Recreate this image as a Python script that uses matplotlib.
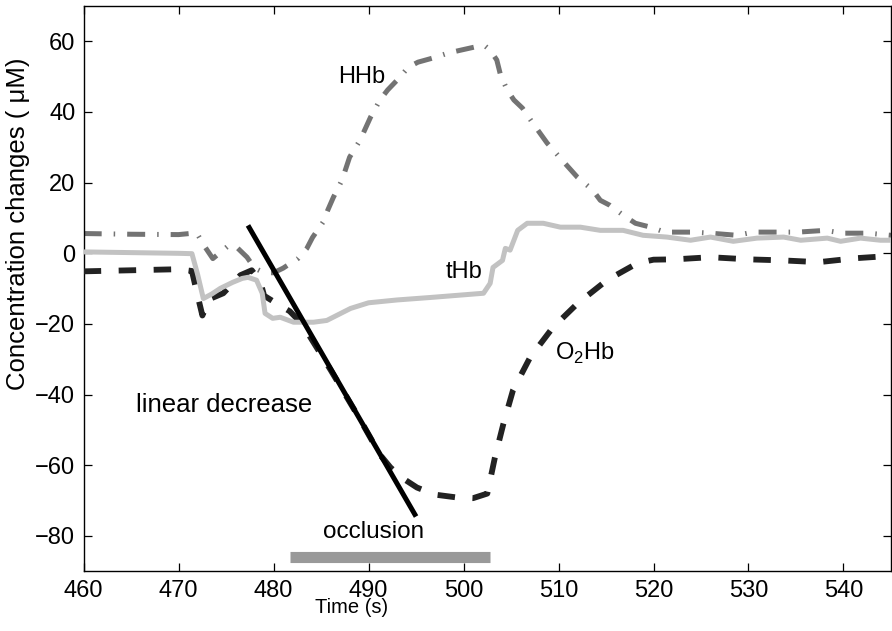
import matplotlib
matplotlib.use("Agg")
import matplotlib.pyplot as plt

plt.rcParams['font.family'] = ['Liberation Sans', 'DejaVu Sans']
plt.rcParams['mathtext.fontset'] = 'custom'
plt.rcParams['mathtext.rm'] = 'Liberation Sans'

# HHb (deoxy-haemoglobin)
hhb_t = [460, 465, 470, 471.9, 472.6, 473.6, 474.5, 475.3, 476.2, 477.2, 478.0,
         479.0, 480.0, 481.0, 482.6, 483.5, 484.1, 485.2, 485.7, 486.3, 487.2,
         488.0, 489.1, 490.2, 491.2, 492.0, 493.0, 494.2, 495.2, 496.8, 498.4,
         499.7, 501.2, 502.3, 502.8, 503.5, 503.9, 504.6, 505.3, 506.2, 507.3,
         508.8, 510.2, 512.0, 513.6, 514.4, 515.4, 516.8, 518.1, 519.7, 521.2,
         524.1, 526.0, 528.8, 530.5, 533.3, 535.2, 538.1, 539.9, 542.6, 545]
hhb_v = [5.6, 5.4, 5.3, 5.8, 2.5, -1.5, 0.5, 2.3, 1.5, -1.1, -4.2,
         -5.5, -5.5, -4.2, -1.4, 1.4, 4.5, 8.8, 12.2, 15.9, 20.7,
         27.2, 32.0, 38.5, 43.4, 46.2, 49.0, 52.7, 54.1, 55.3, 56.7,
         57.5, 58.4, 58.6, 57.5, 54.7, 50.4, 46.2, 43.4, 41.1, 36.8,
         31.2, 26.9, 21.5, 17.9, 15.0, 13.6, 10.8, 8.5, 7.4, 6.0,
         6.0, 5.7, 5.1, 6.0, 6.0, 6.0, 6.5, 5.7, 5.7, 5.1]

# O2Hb (oxy-haemoglobin)
o2hb_t = [460, 465, 470, 471.4, 472.0, 472.5, 473.2, 474.7, 476.5, 477.7, 478.6,
          479.0, 480.5, 481.7, 483.0, 486.0, 489.1, 491.2, 492.3, 493.5, 495.1,
          497.0, 499.3, 501.0, 502.5, 503.3, 504.2, 505.2, 507.0, 509.4, 512.0,
          515.1, 518.3, 520.0, 522.3, 526.0, 529.9, 533.6, 537.4, 541.2, 544.6, 545]
o2hb_v = [-5.1, -4.8, -4.5, -5.0, -12.0, -17.6, -13.0, -11.3, -6.2, -4.8, -8.0,
          -12.0, -14.5, -16.4, -20.0, -33.0, -47.0, -57.0, -60.6, -63.5, -66.3,
          -68.3, -69.1, -69.3, -68.0, -57.8, -48.2, -38.8, -29.5, -21.0, -14.2,
          -7.6, -2.8, -1.8, -1.7, -1.1, -1.7, -2.0, -2.5, -1.4, -0.8, -0.8]

# tHb (total haemoglobin)
thb_t = [460, 465, 470, 471.4, 472.0, 472.6, 473.5, 474.4, 475.7, 476.7, 477.3,
         478.2, 478.8, 479.1, 479.9, 480.7, 482.1, 484.2, 485.6, 488.1, 490.0,
         493.0, 496.5, 500.7, 502.1, 502.8, 503.1, 504.1, 504.4, 504.9, 505.7,
         506.7, 508.4, 510.2, 512.3, 514.4, 516.8, 518.9, 521.4, 523.9, 526.0,
         528.4, 530.9, 533.7, 535.5, 538.3, 539.7, 541.8, 543.9, 545]
thb_v = [0.4, 0.2, 0.0, -0.1, -6.0, -12.8, -11.5, -9.9, -8.2, -7.1, -6.8,
         -7.6, -11.3, -17.0, -18.4, -18.1, -19.5, -19.5, -19.0, -15.6, -14.0,
         -13.2, -12.5, -11.6, -11.3, -8.5, -4.0, -2.0, 1.4, 0.9, 6.5,
         8.5, 8.5, 7.4, 7.4, 6.5, 6.5, 5.1, 4.6, 3.7, 4.6,
         3.4, 4.3, 4.6, 3.7, 4.3, 3.4, 4.3, 3.7, 3.7]

# Linear fit of the O2Hb decrease
fit_t = [477.3, 495.0]
fit_v = [7.9, -74.5]

# Occlusion period
occl_t = [481.7, 502.8]
occl_y = [-86, -86]

x_ticks = [460, 470, 480, 490, 500, 510, 520, 530, 540]
y_ticks = [-80, -60, -40, -20, 0, 20, 40, 60]

fig = plt.figure(figsize=(8.92, 6.31), dpi=100)
ax = fig.add_axes([0.0938, 0.0946, 0.905, 0.8959])

ax.plot(hhb_t, hhb_v, color='#737373', lw=3.6,
        ls=(0, (3.6, 2.4, 0.3, 2.4)), zorder=2)
ax.plot(o2hb_t, o2hb_v, color='#222222', lw=4.2,
        ls=(0, (3.0, 3.0)), zorder=3)
ax.plot(thb_t, thb_v, color='#c2c2c2', lw=3.6, zorder=4)
ax.plot(fit_t, fit_v, color='black', lw=3.6, zorder=5, solid_capstyle='butt')
ax.plot(occl_t, occl_y, color='#999999', lw=8, solid_capstyle='butt', zorder=5)

fs = 17
ax.text(489.3, 50.0, 'HHb', fontsize=fs, ha='center', va='center')
ax.text(500.0, -5.3, 'tHb', fontsize=fs, ha='center', va='center')
ax.text(512.8, -28.3, r'O$_{\mathregular{2}}$Hb', fontsize=fs, ha='center', va='center')
ax.text(474.8, -42.8, 'linear decrease', fontsize=18.5, ha='center', va='center')
ax.text(490.5, -79.0, 'occlusion', fontsize=17.5, ha='center', va='center')

ax.set_xlim(460, 545)
ax.set_ylim(-90, 70)
ax.set_xticks(x_ticks)
ax.set_yticks(y_ticks)
ax.tick_params(direction='in', length=5.8, width=0.9, labelsize=fs,
               top=True, right=True, pad=6)
for s in ax.spines.values():
    s.set_linewidth(1.0)

ax.set_xlabel('Time (s)', fontsize=14.5)
ax.set_ylabel('Concentration changes ( μM)', fontsize=18.5)
ax.xaxis.set_label_coords(0.332, -0.048)
ax.yaxis.set_label_coords(-0.066, 0.615)

fig.savefig('out.png', dpi=100)
